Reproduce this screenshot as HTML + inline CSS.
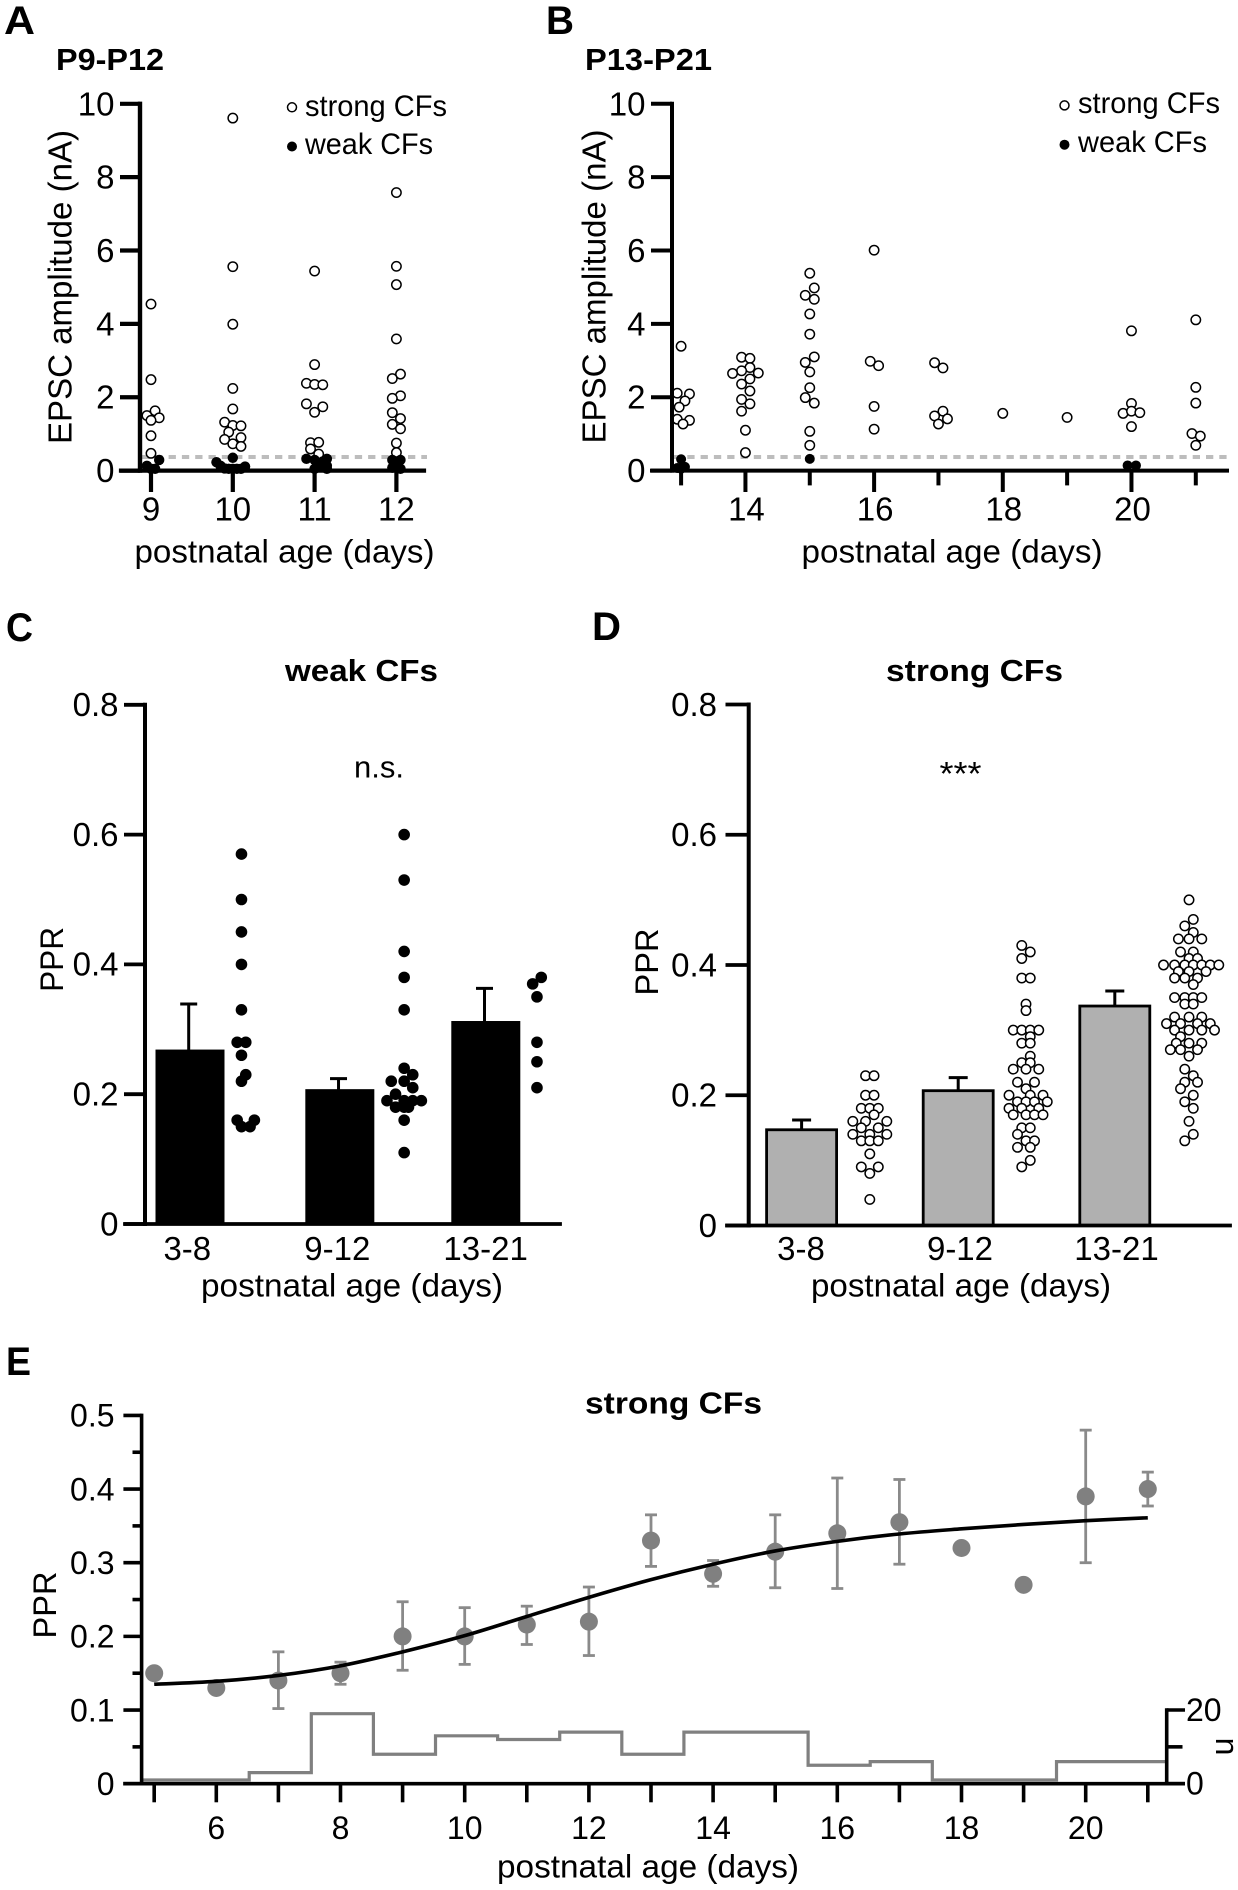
<!DOCTYPE html>
<html lang="en">
<head>
<meta charset="utf-8">
<title>EPSC amplitude and PPR of climbing fibers</title>
<style>
html,body{margin:0;padding:0;background:#fff;}
svg{display:block;}
text{font-family:"Liberation Sans",Arial,sans-serif;fill:#000;}
.b{font-weight:bold;}
</style>
</head>
<body>
<svg id="fig" width="1238" height="1890" viewBox="0 0 1238 1890" xmlns="http://www.w3.org/2000/svg">
<rect width="1238" height="1890" fill="#fff"/>

<g id="panelA">
<text class="b" x="4" y="34" font-size="40" textLength="31" lengthAdjust="spacingAndGlyphs">A</text>
<text class="b" x="56" y="70" font-size="31" textLength="108" lengthAdjust="spacingAndGlyphs">P9-P12</text>
<text transform="translate(71.4,287) rotate(-90)" text-anchor="middle" font-size="33" textLength="314" lengthAdjust="spacingAndGlyphs">EPSC amplitude (nA)</text>
<text x="284.5" y="562.5" text-anchor="middle" font-size="32" textLength="300" lengthAdjust="spacingAndGlyphs">postnatal age (days)</text>
<circle cx="292" cy="107.3" r="4.5" fill="#fff" stroke="#000" stroke-width="1.5"/>
<text x="305" y="116" font-size="30" textLength="142" lengthAdjust="spacingAndGlyphs">strong CFs</text>
<circle cx="292" cy="146.5" r="5" fill="#000"/>
<text x="305" y="154" font-size="30" textLength="128" lengthAdjust="spacingAndGlyphs">weak CFs</text>
</g>

<g id="panelB">
<text class="b" x="546" y="34" font-size="40" textLength="28" lengthAdjust="spacingAndGlyphs">B</text>
<text class="b" x="585" y="70" font-size="31" textLength="127" lengthAdjust="spacingAndGlyphs">P13-P21</text>
<text transform="translate(605.5,286.5) rotate(-90)" text-anchor="middle" font-size="33" textLength="314" lengthAdjust="spacingAndGlyphs">EPSC amplitude (nA)</text>
<text x="952" y="562.5" text-anchor="middle" font-size="32" textLength="301" lengthAdjust="spacingAndGlyphs">postnatal age (days)</text>
<circle cx="1064.5" cy="105.4" r="4.5" fill="#fff" stroke="#000" stroke-width="1.5"/>
<text x="1078" y="113" font-size="30" textLength="142" lengthAdjust="spacingAndGlyphs">strong CFs</text>
<circle cx="1064.5" cy="144.7" r="5" fill="#000"/>
<text x="1078" y="152" font-size="30" textLength="129" lengthAdjust="spacingAndGlyphs">weak CFs</text>
</g>

<g id="panelC">
<text class="b" x="6" y="641" font-size="40" textLength="27" lengthAdjust="spacingAndGlyphs">C</text>
<text class="b" x="285" y="681" font-size="31" textLength="153" lengthAdjust="spacingAndGlyphs">weak CFs</text>
<text x="354" y="777.5" font-size="31" textLength="50" lengthAdjust="spacingAndGlyphs">n.s.</text>
<text transform="translate(63,959.4) rotate(-90)" text-anchor="middle" font-size="32" textLength="65" lengthAdjust="spacingAndGlyphs">PPR</text>
<text x="352" y="1296.5" text-anchor="middle" font-size="32" textLength="302" lengthAdjust="spacingAndGlyphs">postnatal age (days)</text>
</g>

<g id="panelD">
<text class="b" x="592" y="640" font-size="40" textLength="29" lengthAdjust="spacingAndGlyphs">D</text>
<text class="b" x="886" y="681" font-size="31" textLength="177" lengthAdjust="spacingAndGlyphs">strong CFs</text>
<text x="939.5" y="785" font-size="33" textLength="42" lengthAdjust="spacingAndGlyphs">***</text>
<text transform="translate(658,962) rotate(-90)" text-anchor="middle" font-size="32" textLength="67" lengthAdjust="spacingAndGlyphs">PPR</text>
<text x="961" y="1296.5" text-anchor="middle" font-size="32" textLength="300" lengthAdjust="spacingAndGlyphs">postnatal age (days)</text>
</g>

<g id="panelE">
<text class="b" x="6" y="1375" font-size="40" textLength="25" lengthAdjust="spacingAndGlyphs">E</text>
<text class="b" x="585" y="1413.5" font-size="31" textLength="177" lengthAdjust="spacingAndGlyphs">strong CFs</text>
<text transform="translate(56,1605) rotate(-90)" text-anchor="middle" font-size="32" textLength="67" lengthAdjust="spacingAndGlyphs">PPR</text>
<text x="648" y="1877.5" text-anchor="middle" font-size="32" textLength="302" lengthAdjust="spacingAndGlyphs">postnatal age (days)</text>
<text transform="translate(1216,1746.5) rotate(90)" text-anchor="middle" font-size="32">n</text>
</g>
</svg>

<script>
/* ---------- Panel A data ---------- */
const aYTicks = [0, 2, 4, 6, 8, 10];
const aXTicks = [9, 10, 11, 12];
const aThreshold = [0.37];
const aStrongAge = [9,9,9.05,8.95,9.1,9,9,9, 10,10,10,10,10,9.9,10,10.1,9.95,10.1,9.9,10,10.1, 11,11,10.9,11,11.1,10.9,11.1,11,10.95,11.05,10.95,11.05, 12,12,12,12,12.05,11.95,12.05,11.95,11.95,12.05,11.95,12.05,12,12];
const aStrongAmp = [4.54,2.48,1.63,1.5,1.44,1.37,0.95,0.47, 9.61,5.56,3.99,2.24,1.68,1.32,1.23,1.22,1.05,0.9,0.85,0.73,0.66, 5.44,2.89,2.38,2.35,2.34,1.82,1.74,1.59,0.76,0.77,0.59,0.45, 7.58,5.57,5.07,3.59,2.63,2.51,2.04,1.97,1.58,1.42,1.26,1.14,0.75,0.49];
const aWeakAge = [9.1,8.95,9,9.05, 10,9.8,9.85,9.9,9.95,10,10.05,10.1,10.15, 10.9,11,11.1,11.15,11.05,11,11.15,11.1,11.15, 11.95,12.05,12,11.95,12,12.05];
const aWeakAmp = [0.29,0.13,0.05,0.05, 0.35,0.23,0.13,0.06,0.05,0.05,0.05,0.05,0.11, 0.32,0.29,0.25,0.32,0.22,0.05,0.13,0.13,0.05, 0.29,0.29,0.25,0.08,0.08,0.05];

/* ---------- Panel B data ---------- */
const bYTicks = [0, 2, 4, 6, 8, 10];
const bXTicks = [13, 14, 15, 16, 17, 18, 19, 20, 21];
const bXLabels = [14, 16, 18, 20];
const bThreshold = [0.37];
const bStrongAge = [13,12.94,13.13,13.06,12.97,12.94,13.13,13.03, 13.94,14.07,14.07,13.94,13.8,14.2,14.07,13.94,14.07,13.94,14.07,13.94,14,14, 15,15.07,14.93,15.07,15,15,15.07,14.93,15,15,14.93,15.07,15,15, 16,15.94,16.07,16,16, 16.94,17.07,17.07,16.94,17.14,17, 18, 19, 20,20,19.87,20,20.13,20, 21,21,21,20.94,21.07,21];
const bStrongAmp = [3.39,2.11,2.09,1.9,1.73,1.4,1.37,1.27, 3.09,3.06,2.81,2.72,2.65,2.66,2.5,2.36,2.17,1.94,1.82,1.62,1.1,0.49, 5.38,4.98,4.78,4.67,4.27,3.72,3.1,2.95,2.69,2.26,1.99,1.84,1.07,0.69, 6.01,2.98,2.86,1.75,1.13, 2.94,2.8,1.62,1.49,1.41,1.27, 1.56, 1.45, 3.81,1.83,1.56,1.62,1.58,1.2, 4.11,2.27,1.84,1.01,0.94,0.69];
const bWeakAge = [13,12.94,13.06,13,15,19.94,20.07];
const bWeakAmp = [0.31,0.07,0.1,0.05,0.32,0.14,0.14];

/* ---------- Panel C data ---------- */
const cYTicks = [0, 0.2, 0.4, 0.6, 0.8];
const cGroups = ["3-8", "9-12", "13-21"];
const cBarMeans = [0.268, 0.207, 0.312];
const cBarErrTop = [0.339, 0.224, 0.363];
const cBarPos = [0, 1.013, 2];
const cDotPos = [0.348, 1.448, 2.346];
const cDotGroup = [0,0,0,0,0,0,0,0,0,0,0,0,0,0, 1,1,1,1,1,1,1,1,1,1,1,1,1,1,1,1,1,1,1,1, 2,2,2,2,2,2];
const cDotValues = [0.57,0.5,0.45,0.4,0.33,0.28,0.28,0.26,0.23,0.22,0.16,0.16,0.15,0.15, 0.6,0.53,0.42,0.38,0.33,0.24,0.23,0.22,0.22,0.21,0.2,0.19,0.19,0.19,0.19,0.18,0.18,0.16,0.11,0.18, 0.38,0.37,0.35,0.28,0.25,0.21];
const cDotSlots = [0,0,0,0,0,-1,1,0,1,0,-1,3,0,2, 0,0,0,0,0,0,2,-3,0,2,-2,-4,0,2,4,-2,1,0,0,0, 1,-1,0,0,0,0];

/* ---------- Panel D data ---------- */
const dYTicks = [0, 0.2, 0.4, 0.6, 0.8];
const dGroups = ["3-8", "9-12", "13-21"];
const dBarMeans = [0.147, 0.207, 0.337];
const dBarErrTop = [0.162, 0.227, 0.36];
const dDotPos = [0.4355, 1.433, 2.474];
const dG1Values = [0.23,0.23,0.2,0.2,0.18,0.18,0.18,0.17,0.16,0.16,0.16,0.15,0.15,0.14,0.14,0.14,0.13,0.13,0.13,0.11,0.09,0.09,0.08,0.04];
const dG1Slots = [-1,1,-1,1,-2,0,2,1,-4,-1,4,-2,2,-4,0,4,-2,0,2,0,-2,2,0,0];
const dG2Values = [0.43,0.42,0.41,0.38,0.38,0.34,0.33,0.3,0.3,0.3,0.3,0.29,0.28,0.28,0.26,0.25,0.25,0.24,0.24,0.24,0.22,0.22,0.21,0.2,0.2,0.2,0.19,0.19,0.19,0.19,0.18,0.18,0.18,0.17,0.17,0.17,0.17,0.15,0.15,0.14,0.13,0.13,0.12,0.12,0.1,0.09];
const dG2Slots = [-1,1,-1,-1,1,0,0,-3,-1,1,3,1,-1,1,1,-1,1,-3,0,3,-2,2,0,-4,1,4,-2,0,2,5,-4,-1,3,-3,0,2,4,-1,1,-2,0,2,-2,1,1,-1];
const dG3Values = [0.5,0.47,0.46,0.45,0.44,0.44,0.44,0.42,0.42,0.41,0.41,0.4,0.4,0.4,0.4,0.4,0.4,0.4,0.39,0.39,0.39,0.38,0.38,0.38,0.37,0.35,0.35,0.35,0.35,0.34,0.34,0.32,0.32,0.32,0.31,0.31,0.31,0.31,0.3,0.3,0.3,0.3,0.29,0.28,0.28,0.28,0.27,0.27,0.27,0.26,0.24,0.23,0.22,0.22,0.21,0.2,0.19,0.18,0.16,0.14,0.13];
const dG3Slots = [0,1,-1,1,-2.5,0,3,-2,1,0,2,-6,-3.4,-1,1,3,5,7,-2.5,0,4,-3.4,-1,2,1,-3.4,-1,1,3,-1,1,-3.4,0,3,-5.3,-2,2,5,-3.4,0,3,6,-2,-3,0,3,-4.4,-2,2,0,-1,1,-1,2,-2,1,-1,1,0,1,-1];

/* ---------- Panel E data ---------- */
const eYMajor = [0, 0.1, 0.2, 0.3, 0.4, 0.5];
const eYMinor = [0.05, 0.15, 0.25, 0.35, 0.45];
const eXTicks = [5,6,7,8,9,10,11,12,13,14,15,16,17,18,19,20,21];
const eXLabels = [6,8,10,12,14,16,18,20];
const eAges = [5,6,7,8,9,10,11,12,13,14,15,16,17,18,19,20,21];
const eMeans = [0.15,0.13,0.14,0.15,0.2,0.2,0.216,0.22,0.33,0.285,0.315,0.34,0.355,0.32,0.27,0.39,0.4];
const eErrHigh = [null,null,0.179,0.165,0.247,0.239,0.241,0.267,0.365,0.303,0.365,0.415,0.413,null,null,0.48,0.423];
const eErrLow = [null,null,0.102,0.135,0.154,0.162,0.189,0.174,0.295,0.268,0.266,0.265,0.298,null,null,0.3,0.377];
const eFit = [0.135,0.139,0.147,0.16,0.179,0.201,0.227,0.253,0.277,0.298,0.316,0.329,0.339,0.346,0.352,0.357,0.361];
const eNTicks = [0, 10, 20];
const eNTickLabels = [0, 20];
const eBinEdges = [4.8,6.53,7.53,8.53,9.53,10.53,11.53,12.53,13.53,15.53,16.53,17.53,19.53,21.3];
const eBinCounts = [1,3,19,8,13,12,14,8,14,5,6,1,6];

/* ---------- helpers ---------- */
const NS = "http://www.w3.org/2000/svg";
function linear(d0, d1, r0, r1) {
  return function (v) { return r0 + (v - d0) * (r1 - r0) / (d1 - d0); };
}
function mk(parent, tag, attrs) {
  const el = document.createElementNS(NS, tag);
  for (const k in attrs) { el.setAttribute(k, attrs[k]); }
  parent.appendChild(el);
  return el;
}
function axisLine(p, x1, y1, x2, y2, w) {
  const el = mk(p, "line", { x1: x1, y1: y1, x2: x2, y2: y2, stroke: "#000", "stroke-width": w, "stroke-linecap": "square" });
  
  
}
function tick(p, x1, y1, x2, y2, w) {
  const el = mk(p, "line", { x1: x1, y1: y1, x2: x2, y2: y2, stroke: "#000", "stroke-width": w });
  
  
}
function tickLabel(p, x, y, str, size, anchor) {
  const el = mk(p, "text", { x: x, y: y, "font-size": size, "text-anchor": anchor });
  el.textContent = str;
  
  
}
function strongPoint(p, cx, cy) {
  const el = mk(p, "circle", { cx: cx, cy: cy, r: 4.7, fill: "#fff", stroke: "#000", "stroke-width": 1.5 });
  
  
}
function weakPoint(p, cx, cy, r) {
  const el = mk(p, "circle", { cx: cx, cy: cy, r: r, fill: "#000" });
  
  
}
function thresholdLine(p, x1, x2, y) {
  const el = mk(p, "line", { x1: x1, x2: x2, y1: y, y2: y, stroke: "#bdbdbd", "stroke-width": 4, "stroke-dasharray": "7.3 6" });
  
  
}
function barRect(p, cx, w, top, base, fill, sw) {
  const el = mk(p, "rect", { x: cx - w / 2, y: top, width: w, height: base - top, fill: fill, stroke: "#000", "stroke-width": sw });
  
  
}
function errorBar(p, x, y1, y2, cap, color, w) {
  const stem = mk(p, "line", { x1: x, x2: x, y1: y1, y2: y2, stroke: color, "stroke-width": w });
  
  
  const c = mk(p, "line", { x1: x - cap / 2, x2: x + cap / 2, y1: y2, y2: y2, stroke: color, "stroke-width": w });
  
  
}

/* ---------- Panel A ---------- */
(function () {
  const p = document.getElementById("panelA");
  const x = linear(9, 12, 151, 396.4);
  const y = linear(0, 10, 470.6, 103.8);
  thresholdLine(p, 142, 427, y(aThreshold[0]));
  aStrongAge.forEach(function (a, i) { strongPoint(p, x(a), y(aStrongAmp[i])); });
  aWeakAge.forEach(function (a, i) { weakPoint(p, x(a), y(aWeakAmp[i]), 5.2); });
  axisLine(p, 140, y(10), 140, y(0), 4.4);
  axisLine(p, 121, y(0), 424, y(0), 4.2);
  aYTicks.forEach(function (t) {
    tick(p, 120, y(t), 140, y(t), 4.2);
    tickLabel(p, 114.5, y(t) + 11.5, String(t), 33, "end");
  });
  aXTicks.forEach(function (t) {
    tick(p, x(t), y(0), x(t), 492, 4.2);
    tickLabel(p, x(t), 520.5, String(t), 33, "middle");
  });
})();

/* ---------- Panel B ---------- */
(function () {
  const p = document.getElementById("panelB");
  const x = linear(13, 21, 681.1, 1195.8);
  const y = linear(0, 10, 470.6, 103.8);
  thresholdLine(p, 674, 1228, y(bThreshold[0]));
  bStrongAge.forEach(function (a, i) { strongPoint(p, x(a), y(bStrongAmp[i])); });
  bWeakAge.forEach(function (a, i) { weakPoint(p, x(a), y(bWeakAmp[i]), 5); });
  axisLine(p, 672, y(10), 672, y(0), 4);
  axisLine(p, 652, y(0), 1227, y(0), 4);
  bYTicks.forEach(function (t) {
    tick(p, 651, y(t), 672, y(t), 4);
    tickLabel(p, 645.5, y(t) + 11.5, String(t), 33, "end");
  });
  bXTicks.forEach(function (t) {
    const major = bXLabels.indexOf(t) >= 0;
    tick(p, x(t), y(0), x(t), major ? 492 : 485.4, 4);
  });
  bXLabels.forEach(function (t) {
    tickLabel(p, x(t) + 1, 520.5, String(t), 33, "middle");
  });
})();

/* ---------- Panel C ---------- */
(function () {
  const p = document.getElementById("panelC");
  const x = linear(0, 2, 190, 485.8);
  const y = linear(0, 0.8, 1224, 704.8);
  const slot = 4.3;
  cBarMeans.forEach(function (m, i) {
    errorBar(p, x(cBarPos[i]) - 1.3, y(m), y(cBarErrTop[i]), 17, "#000", 3);
    barRect(p, x(cBarPos[i]), 68, y(m), y(0), "#000", 1);
  });
  cDotValues.forEach(function (v, i) {
    weakPoint(p, x(cDotPos[cDotGroup[i]]) + cDotSlots[i] * slot, y(v), 5.8);
  });
  axisLine(p, 145, y(0.8), 145, y(0), 4);
  axisLine(p, 125, y(0), 560, y(0), 3.8);
  cYTicks.forEach(function (t) {
    tick(p, 124, y(t), 145, y(t), 3.8);
    tickLabel(p, 118.5, y(t) + 11.3, t === 0 ? "0" : t.toFixed(1), 33, "end");
  });
  cGroups.forEach(function (g, i) {
    tickLabel(p, [187.3, 337.3, 485.6][i], 1260, g, 33, "middle");
  });
})();

/* ---------- Panel D ---------- */
(function () {
  const p = document.getElementById("panelD");
  const x = linear(0, 2, 801.6, 1114.8);
  const y = linear(0, 0.8, 1225.5, 704.5);
  const slot = 4.25;
  dBarMeans.forEach(function (m, i) {
    errorBar(p, x(i), y(m), y(dBarErrTop[i]), 19, "#000", 3);
    barRect(p, x(i), 70, y(m), y(0), "#b0b0b0", 2.8);
  });
  [[dG1Values, dG1Slots], [dG2Values, dG2Slots], [dG3Values, dG3Slots]].forEach(function (g, k) {
    g[0].forEach(function (v, i) {
      strongPoint(p, x(dDotPos[k]) + g[1][i] * slot, y(v));
    });
  });
  axisLine(p, 748.7, y(0.8), 748.7, y(0), 4);
  axisLine(p, 727, y(0), 1230, y(0), 3.8);
  dYTicks.forEach(function (t) {
    tick(p, 725.5, y(t), 748.7, y(t), 3.8);
    tickLabel(p, 717, y(t) + 11.3, t === 0 ? "0" : t.toFixed(1), 33, "end");
  });
  dGroups.forEach(function (g, i) {
    tickLabel(p, [801, 960, 1116.5][i], 1260, g, 33, "middle");
  });
})();

/* ---------- Panel E ---------- */
(function () {
  const p = document.getElementById("panelE");
  const x = linear(5, 21, 154.2, 1147.8);
  const y = linear(0, 0.5, 1783.7, 1415.4);
  const n = linear(0, 20, 1783.7, 1710);

  /* histogram of cell counts */
  let d = "M" + x(eBinEdges[0]) + " " + n(eBinCounts[0]);
  eBinCounts.forEach(function (c, i) {
    d += " L" + x(eBinEdges[i]) + " " + n(c) + " L" + x(eBinEdges[i + 1]) + " " + n(c);
  });
  const hist = mk(p, "path", { d: d, fill: "none", stroke: "#808080", "stroke-width": 3.2 });
  
  

  /* error bars */
  eAges.forEach(function (a, i) {
    if (eErrHigh[i] === null) { return; }
    errorBar(p, x(a), y(eErrLow[i]), y(eErrHigh[i]), 12, "#8a8a8a", 2.8);
    const low = mk(p, "line", { x1: x(a) - 6, x2: x(a) + 6, y1: y(eErrLow[i]), y2: y(eErrLow[i]), stroke: "#8a8a8a", "stroke-width": 2.8 });
    
    
  });

  /* mean markers */
  eAges.forEach(function (a, i) {
    const c = mk(p, "circle", { cx: x(a), cy: y(eMeans[i]), r: 9, fill: "#808080" });
    
    
  });

  /* fitted curve through the values read at each age */
  const pts = eAges.map(function (a, i) { return [x(a), y(eFit[i])]; });
  let f = "M" + pts[0][0] + " " + pts[0][1];
  for (let i = 0; i < pts.length - 1; i++) {
    const a = pts[Math.max(i - 1, 0)], b = pts[i], c = pts[i + 1], e = pts[Math.min(i + 2, pts.length - 1)];
    f += " C" + (b[0] + (c[0] - a[0]) / 6) + " " + (b[1] + (c[1] - a[1]) / 6) + " " + (c[0] - (e[0] - b[0]) / 6) + " " + (c[1] - (e[1] - b[1]) / 6) + " " + c[0] + " " + c[1];
  }
  const fit = mk(p, "path", { d: f, fill: "none", stroke: "#000", "stroke-width": 3.6 });
  
  

  /* axes */
  axisLine(p, 141.6, y(0.5), 141.6, y(0), 3.6);
  axisLine(p, 125, y(0), 1183, y(0), 3.6);
  axisLine(p, 1166.7, n(20), 1166.7, n(0), 3.6);
  eYMajor.forEach(function (t) {
    tick(p, 123.4, y(t), 141.6, y(t), 3.6);
    tickLabel(p, 114.5, y(t) + 11.3, t === 0 ? "0" : t.toFixed(1), 32, "end");
  });
  eYMinor.forEach(function (t) {
    tick(p, 132.5, y(t), 141.6, y(t), 3.6);
  });
  eXTicks.forEach(function (t) {
    tick(p, x(t), y(0), x(t), 1802.3, 3.6);
  });
  eXLabels.forEach(function (t) {
    tickLabel(p, x(t), 1838.8, String(t), 32, "middle");
  });
  eNTicks.forEach(function (t) {
    tick(p, 1166.7, n(t), t === 10 ? 1182.5 : 1185, n(t), 3.6);
  });
  eNTickLabels.forEach(function (t) {
    tickLabel(p, 1186, n(t) + 11, String(t), 32, "start");
  });
})();
</script>
</body>
</html>
